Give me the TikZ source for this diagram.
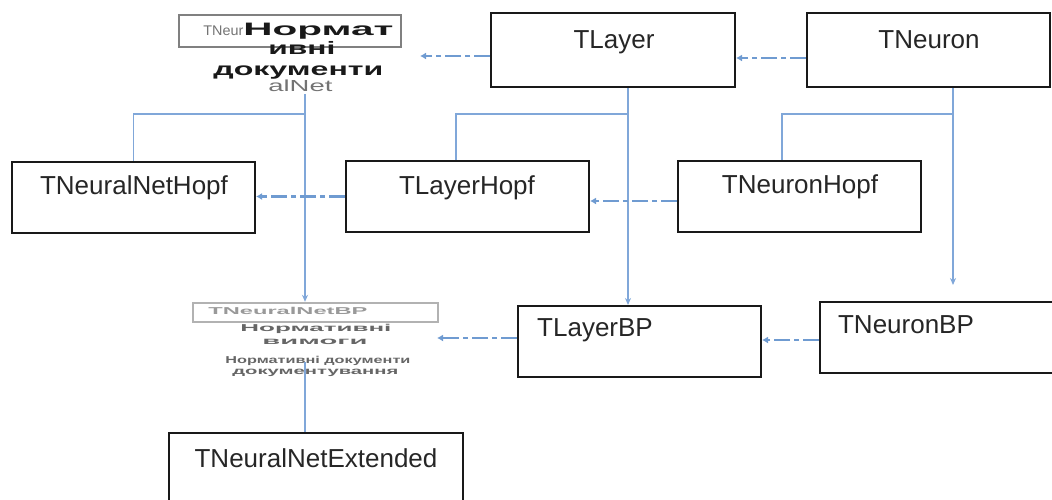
\documentclass[tikz,border=0pt]{standalone}
\usepackage{fontspec}
\usepackage{graphicx}
\setmainfont{Liberation Sans}
\usetikzlibrary{arrows.meta,fit}
\definecolor{edgeblue}{HTML}{80A7D9}
\definecolor{depblue}{HTML}{6F9BD1}
\newcommand\hfitto[2]{\resizebox{#1}{\height}{#2}}
\tikzset{
  x=0.5pt,y=-0.5pt,
  box/.style={draw=black!90,line width=1pt,inner sep=0pt},
  lbl/.style={font=\fontsize{13}{15}\selectfont,text=black!85,anchor=base,inner sep=0pt},
  cyr/.style={font=\bfseries\fontsize{9}{10}\selectfont,text=black!90,anchor=base west,inner sep=0pt},
  tiny/.style={font=\bfseries\fontsize{5}{6}\selectfont,text=black!60,anchor=base west,inner sep=0pt},
  inh/.style={draw=edgeblue,line width=0.8pt,-{Stealth[length=3.5pt,width=3pt]}},
  link/.style={draw=edgeblue,line width=0.8pt},
  depline/.style={draw=depblue,line width=1.4pt,dash pattern=on 8pt off 2pt on 2.5pt off 2pt,-{Latex[length=3pt,width=3.5pt]}}
}
\begin{document}
\begin{tikzpicture}
\useasboundingbox (0,0) rectangle (1052,499);
% ---- boxes ----
\node[draw=black!50,line width=1pt,inner sep=0pt,fit={(179,15)(401,47)}] (nnbox) {};
\node[box,fit={(491,13)(735,87)}] (layer) {};
\node[box,fit={(807,13)(1050,87)}] (neuron) {};
\node[box,fit={(12,162)(255,233)}] (nnh) {};
\node[box,fit={(346,161)(589,232)}] (lh) {};
\node[box,fit={(678,161)(921,232)}] (nh) {};
\node[draw=black!30,line width=1.2pt,inner sep=0pt,fit={(193,303)(438,322)}] (nnbpbox) {};
\node[box,fit={(518,306)(761,377)}] (lbp) {};
\node[box,fit={(820,302)(1058,373)}] (nbp) {};
\node[box,fit={(169,433)(463,515)}] (nnext) {};
% ---- labels ----
\node[lbl] (layer-t) at (614,48) {TLayer};
\node[lbl] (neuron-t) at (929,48) {TNeuron};
\node[lbl] (nnh-t) at (134,194) {TNeuralNetHopf};
\node[lbl] (lh-t) at (467,194) {TLayerHopf};
\node[lbl] (nh-t) at (800,193) {TNeuronHopf};
\node[lbl] (lbp-t) at (595,336) {TLayerBP};
\node[lbl] (nbp-t) at (906,333) {TNeuronBP};
\node[lbl] (nnext-t) at (316,467) {TNeuralNetExtended};
% ---- overlapping Cyrillic/Latin text ----
\node[anchor=base west,inner sep=0pt] (nn1) at (203,35)
  {{\color{black!55}\fontsize{7}{8}\selectfont\hfitto{20pt}{TNeur}}{\bfseries\fontsize{9}{10}\selectfont\color{black!90}\hfitto{75pt}{Нормат}}};
\node[cyr] (nn2) at (268,54) {\hfitto{33.5pt}{ивні}};
\node[cyr] (nn3) at (213,75) {\hfitto{85pt}{документи}};
\node[anchor=base west,inner sep=0pt,font=\fontsize{8}{9}\selectfont,text=black!55] (nn4) at (268,91) {\hfitto{32pt}{alNet}};
\node[tiny,text=black!40] (bp1) at (208,314) {\hfitto{79.5pt}{TNeuralNetBP}};
\node[tiny] (bp2) at (240,331) {\hfitto{75.5pt}{Нормативні}};
\node[tiny] (bp3) at (262,344) {\hfitto{52.5pt}{вимоги}};
\node[tiny] (bp4) at (225,363) {\hfitto{92.5pt}{Нормативні документи}};
\node[tiny] (bp5) at (232,374) {\hfitto{83pt}{документування}};
% ---- coordinates ----
\coordinate (nnout) at (305,94);
\coordinate (nnj) at (305,114);
\coordinate (lj) at (628,114);
\coordinate (nj) at (953,114);
\coordinate (nnin) at (420,56);
\coordinate (nnbpin) at (437,338);
\coordinate (nbpin) at (953,285);
\coordinate (nnbpout) at (305,362);
% ---- inheritance lines ----
\draw[inh] (nnout) -- (nnout |- nnbpbox.north);
\draw[link] (nnj) -| (nnh.north);
\draw[inh] (layer.south -| lj) -- (lbp.north -| lj);
\draw[link] (lj) -| ([xshift=-5.75pt]lh.north);
\draw[inh] (neuron.south -| nj) -- (nbpin);
\draw[link] (nj) -| ([xshift=-8.75pt]nh.north);
\draw[link] (nnbpout) -- (nnbpout |- nnext.north);
% ---- dependency (dash-dot) arrows ----
\draw[depline] ([yshift=-3pt]layer.west) -- (nnin);
\draw[depline] ([yshift=-4pt]neuron.west) -- ([yshift=-4pt]layer.east);
\draw[depline] (lh.west) -- (nnh.east |- lh.west);
\draw[depline] ([yshift=-2.25pt]nh.west) -- ([yshift=-2.25pt]lh.east);
\draw[depline] ([yshift=1.75pt]lbp.west) -- (nnbpin);
\draw[depline] ([yshift=-1.25pt]nbp.west) -- ([yshift=0.75pt]lbp.east);
\end{tikzpicture}
\end{document}
